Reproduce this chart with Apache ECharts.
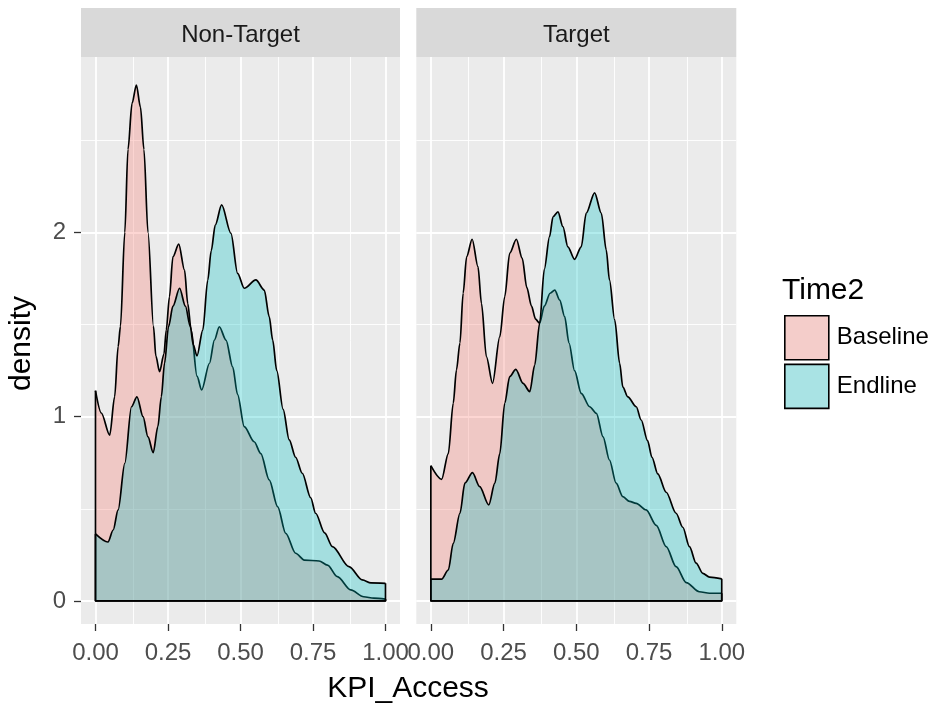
<!DOCTYPE html>
<html>
<head>
<meta charset="utf-8">
<script src="https://cdn.jsdelivr.net/npm/echarts@6/dist/echarts.min.js"></script>
<style>
  html, body { margin: 0; padding: 0; background: #ffffff; }
  #chart { width: 934px; height: 711px; }
</style>
</head>
<body>
<div id="chart"></div>
<script>
// ---------- data ----------
const panels = ['Non-Target', 'Target'];
const groups = ['Baseline', 'Endline'];
const xTicks = [0, 0.25, 0.5, 0.75, 1];
const xTickLabels = ['0.00', '0.25', '0.50', '0.75', '1.00'];
const xMinor = [0.125, 0.375, 0.625, 0.875];
const yTicks = [0, 1, 2];
const yTickLabels = ['0', '1', '2'];
const yMinor = [0.5, 1.5, 2.5];

// Non-Target, Baseline  [KPI_Access, density]
const ntBaseline = [
  [0, 1.141], [0.02, 1.02], [0.049, 0.90], [0.066, 1.108], [0.078, 1.38], [0.086, 1.49],
  [0.101, 2.0], [0.112, 2.45], [0.126, 2.70], [0.141, 2.80], [0.155, 2.68], [0.167, 2.45],
  [0.181, 2.0], [0.20, 1.49], [0.208, 1.33], [0.221, 1.244], [0.236, 1.34], [0.244, 1.47],
  [0.255, 1.651], [0.267, 1.868], [0.287, 1.937], [0.307, 1.796], [0.318, 1.615], [0.33, 1.47],
  [0.35, 1.22], [0.366, 1.145], [0.393, 1.29], [0.41, 1.416], [0.427, 1.488], [0.45, 1.416],
  [0.473, 1.27], [0.49, 1.12], [0.513, 0.946], [0.547, 0.864], [0.57, 0.80], [0.599, 0.657],
  [0.628, 0.512], [0.656, 0.367], [0.69, 0.259], [0.72, 0.222], [0.771, 0.217], [0.80, 0.195],
  [0.834, 0.132], [0.88, 0.06], [0.925, 0.023], [0.96, 0.015], [1.0, 0.01]
];
// Non-Target, Endline
const ntEndline = [
  [0, 0.364], [0.043, 0.32], [0.061, 0.385], [0.078, 0.494], [0.101, 0.747], [0.124, 1.054],
  [0.143, 1.108], [0.164, 1.0], [0.181, 0.89], [0.199, 0.805], [0.215, 0.946], [0.227, 1.108],
  [0.238, 1.29], [0.252, 1.49], [0.267, 1.6], [0.29, 1.697], [0.31, 1.60], [0.327, 1.49],
  [0.337, 1.39], [0.35, 1.33], [0.37, 1.47], [0.387, 1.74], [0.399, 1.90], [0.413, 2.04],
  [0.435, 2.149], [0.467, 1.995], [0.49, 1.778], [0.513, 1.697], [0.553, 1.742], [0.582, 1.687],
  [0.599, 1.543], [0.611, 1.416], [0.625, 1.25], [0.647, 1.04], [0.668, 0.874], [0.69, 0.78],
  [0.713, 0.693], [0.742, 0.56], [0.759, 0.476], [0.79, 0.37], [0.817, 0.295], [0.874, 0.186],
  [0.92, 0.114], [0.95, 0.098], [1.0, 0.096]
];
// Target, Baseline
const tBaseline = [
  [0, 0.734], [0.037, 0.66], [0.06, 0.80], [0.077, 1.073], [0.088, 1.253], [0.10, 1.40],
  [0.111, 1.67], [0.123, 1.868], [0.142, 1.963], [0.162, 1.814], [0.174, 1.615], [0.191, 1.326],
  [0.212, 1.181], [0.237, 1.434], [0.254, 1.651], [0.271, 1.887], [0.294, 1.963], [0.314, 1.86],
  [0.33, 1.70], [0.346, 1.60], [0.36, 1.53], [0.374, 1.507], [0.39, 1.60], [0.41, 1.67],
  [0.426, 1.687], [0.443, 1.633], [0.46, 1.543], [0.475, 1.40], [0.494, 1.25], [0.517, 1.127],
  [0.546, 1.054], [0.569, 1.018], [0.592, 0.891], [0.614, 0.765], [0.637, 0.639], [0.66, 0.566],
  [0.683, 0.54], [0.706, 0.53], [0.74, 0.494], [0.775, 0.41], [0.809, 0.295], [0.843, 0.186],
  [0.878, 0.10], [0.923, 0.05], [0.958, 0.042], [1.0, 0.042]
];
// Target, Endline
const tEndline = [
  [0, 0.118], [0.037, 0.118], [0.06, 0.168], [0.077, 0.313], [0.10, 0.476], [0.117, 0.639],
  [0.143, 0.696], [0.168, 0.62], [0.199, 0.521], [0.22, 0.639], [0.237, 0.80], [0.254, 1.073],
  [0.271, 1.217], [0.292, 1.257], [0.317, 1.181], [0.34, 1.136], [0.357, 1.28], [0.374, 1.507],
  [0.39, 1.80], [0.408, 1.977], [0.42, 2.085], [0.437, 2.112], [0.454, 2.031], [0.471, 1.922],
  [0.494, 1.854], [0.517, 1.922], [0.534, 2.104], [0.563, 2.215], [0.586, 2.104], [0.603, 1.904],
  [0.614, 1.742], [0.632, 1.525], [0.649, 1.29], [0.66, 1.16], [0.677, 1.108], [0.706, 1.054],
  [0.723, 0.982], [0.745, 0.87], [0.76, 0.78], [0.78, 0.69], [0.809, 0.59], [0.843, 0.476],
  [0.866, 0.40], [0.889, 0.295], [0.912, 0.205], [0.935, 0.15], [0.958, 0.129], [1.0, 0.12]
];

const panelData = [[ntBaseline, ntEndline], [tBaseline, tEndline]];

// ---------- styling / layout ----------
const FONT = "'Liberation Sans', Arial, sans-serif";
const fillColors = ['#F8766D', '#00BFC4'];
const keyColors = ['#F4CDCA', '#A9E3E4'];
const gridPos = [{ left: 81, width: 319 }, { left: 416.3, width: 320 }];
const GRID_TOP = 57, GRID_H = 567;
const STRIP_TOP = 8, STRIP_H = 49;
const LINE_W = 1.7;

const chart = echarts.init(document.getElementById('chart'), null, { renderer: 'canvas' });

const grids = gridPos.map(g => ({
  left: g.left, width: g.width, top: GRID_TOP, height: GRID_H,
  show: true, backgroundColor: '#EBEBEB', borderWidth: 0, containLabel: false
}));

const xAxes = gridPos.map((g, i) => ({
  type: 'value', gridIndex: i, min: -0.05, max: 1.05, position: 'bottom',
  axisLine: { show: false, onZero: false },
  axisTick: { show: true, customValues: xTicks, length: 7, lineStyle: { color: '#333333', width: 1.3 } },
  axisLabel: {
    show: true, customValues: xTicks, fontSize: 24, color: '#4D4D4D', fontFamily: FONT,
    margin: 29, verticalAlign: 'middle',
    formatter: v => xTickLabels[xTicks.findIndex(t => Math.abs(t - v) < 1e-9)]
  },
  splitLine: { show: false }
}));

const yAxes = gridPos.map((g, i) => ({
  type: 'value', gridIndex: i, min: -0.125, max: 2.952, position: 'left',
  axisLine: { show: false, onZero: false },
  axisTick: { show: i === 0, customValues: yTicks, length: 7, lineStyle: { color: '#333333', width: 1.3 } },
  axisLabel: {
    show: i === 0, customValues: yTicks, fontSize: 24, color: '#4D4D4D', fontFamily: FONT, margin: 15,
    formatter: v => yTickLabels[yTicks.findIndex(t => Math.abs(t - v) < 1e-9)]
  },
  splitLine: { show: false }
}));

function gridLineData() {
  const d = [];
  xMinor.forEach(v => d.push({ xAxis: v, lineStyle: { width: 0.9 } }));
  yMinor.forEach(v => d.push({ yAxis: v, lineStyle: { width: 0.9 } }));
  xTicks.forEach(v => d.push({ xAxis: v, lineStyle: { width: 1.8 } }));
  yTicks.forEach(v => d.push({ yAxis: v, lineStyle: { width: 1.8 } }));
  return d;
}

const series = [];
panels.forEach((p, pi) => {
  series.push({
    type: 'line', xAxisIndex: pi, yAxisIndex: pi, data: [], silent: true, z: 1,
    markLine: {
      silent: true, z: 0, symbol: ['none', 'none'], label: { show: false },
      lineStyle: { color: '#FFFFFF', type: 'solid' }, animation: false,
      emphasis: { disabled: true },
      data: gridLineData()
    }
  });
  groups.forEach((gname, gi) => {
    const d = panelData[pi][gi];
    series.push({
      name: gname, type: 'line', xAxisIndex: pi, yAxisIndex: pi,
      data: d, smooth: 0.3, smoothMonotone: 'x', symbol: 'none', showSymbol: false,
      lineStyle: { color: '#000000', width: LINE_W },
      itemStyle: { color: fillColors[gi] },
      areaStyle: { color: fillColors[gi], opacity: 0.3, origin: 0 },
      emphasis: { disabled: true }, silent: true, z: 2 + gi
    });
    // polygon edges of the density area: left side, baseline, right side
    series.push({
      type: 'line', xAxisIndex: pi, yAxisIndex: pi,
      data: [[0, d[0][1]], [0, 0], [1, 0], [1, d[d.length - 1][1]]],
      smooth: false, symbol: 'none', showSymbol: false,
      lineStyle: { color: '#000000', width: LINE_W },
      itemStyle: { color: '#000000' },
      emphasis: { disabled: true }, silent: true, z: 2 + gi
    });
  });
});

const graphics = [];
gridPos.forEach((g, i) => {
  graphics.push({
    type: 'rect', shape: { x: g.left, y: STRIP_TOP, width: g.width, height: STRIP_H },
    style: { fill: '#D9D9D9' }, silent: true
  });
  graphics.push({
    type: 'text', x: g.left + g.width / 2, y: STRIP_TOP + STRIP_H / 2 + 3,
    style: { text: panels[i], fill: '#1A1A1A', font: '24px ' + FONT, textAlign: 'center', textVerticalAlign: 'middle' },
    silent: true
  });
});
graphics.push({
  type: 'text', x: 21.5, y: 343.5, rotation: Math.PI / 2,
  style: { text: 'density', fill: '#000000', font: '30px ' + FONT, textAlign: 'center', textVerticalAlign: 'middle' },
  silent: true
});
graphics.push({
  type: 'text', x: 408, y: 689,
  style: { text: 'KPI_Access', fill: '#000000', font: '30px ' + FONT, textAlign: 'center', textVerticalAlign: 'middle' },
  silent: true
});
graphics.push({
  type: 'text', x: 782, y: 291,
  style: { text: 'Time2', fill: '#000000', font: '30px ' + FONT, textAlign: 'left', textVerticalAlign: 'middle' },
  silent: true
});

chart.setOption({
  animation: false,
  backgroundColor: '#FFFFFF',
  textStyle: { fontFamily: FONT },
  grid: grids,
  xAxis: xAxes,
  yAxis: yAxes,
  legend: {
    orient: 'vertical', left: 784, top: 315, padding: 0,
    itemWidth: 44, itemHeight: 44, itemGap: 3, selectedMode: false,
    textStyle: { fontSize: 24, color: '#000000', fontFamily: FONT, padding: [0, 0, 0, 3] },
    data: groups.map((gname, gi) => ({
      name: gname, icon: 'rect',
      itemStyle: { color: keyColors[gi], borderColor: '#000000', borderWidth: 1.6 }
    }))
  },
  graphic: graphics,
  series: series
});
</script>
</body>
</html>
